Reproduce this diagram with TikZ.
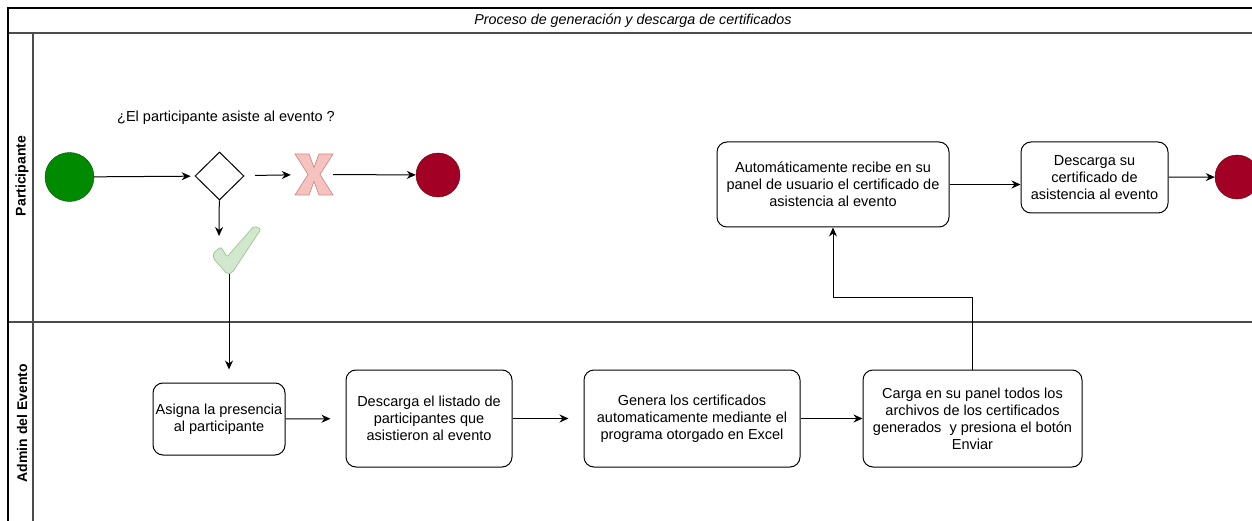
\documentclass[tikz,border=0pt]{standalone}
\usepackage{fontspec}
\setmainfont{Liberation Sans}
\usetikzlibrary{arrows.meta,shapes.geometric}
\definecolor{startgreen}{HTML}{008A00}
\definecolor{startline}{HTML}{005700}
\definecolor{endred}{HTML}{A20025}
\definecolor{endline}{HTML}{6F0000}
\definecolor{nofill}{HTML}{F6C2C0}
\definecolor{noline}{HTML}{D08A88}
\definecolor{yesfill}{HTML}{D2E8CE}
\definecolor{yesline}{HTML}{9CC68C}
\begin{document}
\begin{tikzpicture}[x=1pt,y=-1pt,
		pool/.style={draw=black,line width=1.6pt},
		lane/.style={draw=black!70,line width=1.4pt},
		lanelabel/.style={rotate=90,font=\bfseries\fontsize{14}{16}\selectfont},
		task/.style={draw,rounded corners=10pt,line width=1pt,align=center,inner sep=2pt,
			font=\fontsize{14.5}{17}\selectfont},
		startev/.style={circle,draw=startline,fill=startgreen,minimum size=49pt,inner sep=0},
		endev/.style={circle,draw=endline,fill=endred,minimum size=44pt,inner sep=0},
		gate/.style={diamond,draw,line width=1pt,minimum width=49pt,minimum height=48pt,inner sep=0},
		flow/.style={-{Stealth[length=9pt,width=8pt]},line width=1pt}]
	\useasboundingbox (0,0) rectangle (1252,521);
	\clip (0,0) rectangle (1252,521);
	\fill[white] (0,0) rectangle (1252,521);
	% pool and lanes
	\draw[lane] (8,33) -- (1260,33);
	\draw[lane] (33,33) -- (33,530);
	\draw[lane] (8,322) -- (1260,322);
	\draw[pool] (1260,8) -| (8,530);
	\node[font=\itshape\fontsize{14.3}{16}\selectfont] (title) at (633,21) {Proceso de generación y descarga de certificados};
	\node[lanelabel] (lanep) at (22,176) {Participante};
	\node[lanelabel] (lanea) at (22,423) {Admin del Evento};
	% participante
	\node[startev] (start) at (69.5,177) {};
	\node[gate] (dec) at (219.5,176) {};
	\node[font=\fontsize{14.5}{17}\selectfont] (question) at (226,118) {¿El participante asiste al evento ?};
	\node[minimum width=38pt,minimum height=41pt,inner sep=0] (cross) at (314,174.5) {};
	\filldraw[fill=nofill,draw=noline,line width=0.7pt,shift={(cross.center)}]
		(-19,-20.5) -- (-5,-20.5) -- (0,-7) -- (5,-20.5) -- (19,-20.5) -- (6,0) -- (19,20.5)
		-- (5,20.5) -- (0,7) -- (-5,20.5) -- (-19,20.5) -- (-6,0) -- cycle;
	\node[endev] (endp) at (438,175) {};
	\node[minimum width=49pt,minimum height=48pt,inner sep=0] (tick) at (237.5,250) {};
	\filldraw[fill=yesfill,draw=yesline,line width=0.7pt,rounded corners=2pt,shift={(tick.center)}]
		(-23.5,2) -- (-16.5,-3) -- (-10.5,7) -- (16.5,-24) -- (23.5,-21) -- (-5.5,23)
		-- (-10.5,24) -- (-24.5,8) -- cycle;
	\coordinate (tickin) at (219,236);
	\coordinate (tickout) at (229,274);
	\node[task,minimum width=232pt,minimum height=85pt] (auto) at (833,184.5) {Automáticamente recibe en su\\panel de usuario el certificado de\\asistencia al evento};
	\node[task,minimum width=147pt,minimum height=71pt] (descsu) at (1094.5,177.5) {Descarga su\\certificado de\\asistencia al evento};
	\node[endev] (endf) at (1237,177) {};
	% admin del evento
	\node[task,minimum width=132pt,minimum height=72pt,inner sep=0pt] (asigna) at (219,419) {Asigna la presencia\\al participante};
	\node[task,minimum width=166pt,minimum height=97pt] (desc) at (429,418.5) {Descarga el listado de\\participantes que\\asistieron al evento};
	\node[task,minimum width=216pt,minimum height=97pt] (gen) at (692,418.5) {Genera los certificados\\automaticamente mediante el\\programa otorgado en Excel};
	\node[task,minimum width=219pt,minimum height=97pt] (carga) at (972.5,418.5) {Carga en su panel todos los\\archivos de los certificados\\generados\ \ y presiona el botón\\Enviar};
	% flows
	\draw[flow,shorten >=4pt] (start) -- (dec);
	\draw[flow,shorten <=11pt,shorten >=4pt] (dec) -- (cross);
	\draw[flow] (cross) -- (endp);
	\draw[flow] (dec) -- (tickin);
	\draw[flow,shorten >=13pt] (tickout) -- (tickout |- asigna.north);
	\draw[flow,shorten >=15pt] (asigna) -- (desc);
	\draw[flow,shorten >=15pt] (desc) -- (gen);
	\draw[flow] (gen) -- (carga);
	\draw[flow] (carga.north) -- ++(0,-72) -| (auto.south);
	\draw[flow] (auto.east) -- (auto.east -| descsu.west);
	\draw[flow] (descsu) -- (endf);
\end{tikzpicture}
\end{document}
